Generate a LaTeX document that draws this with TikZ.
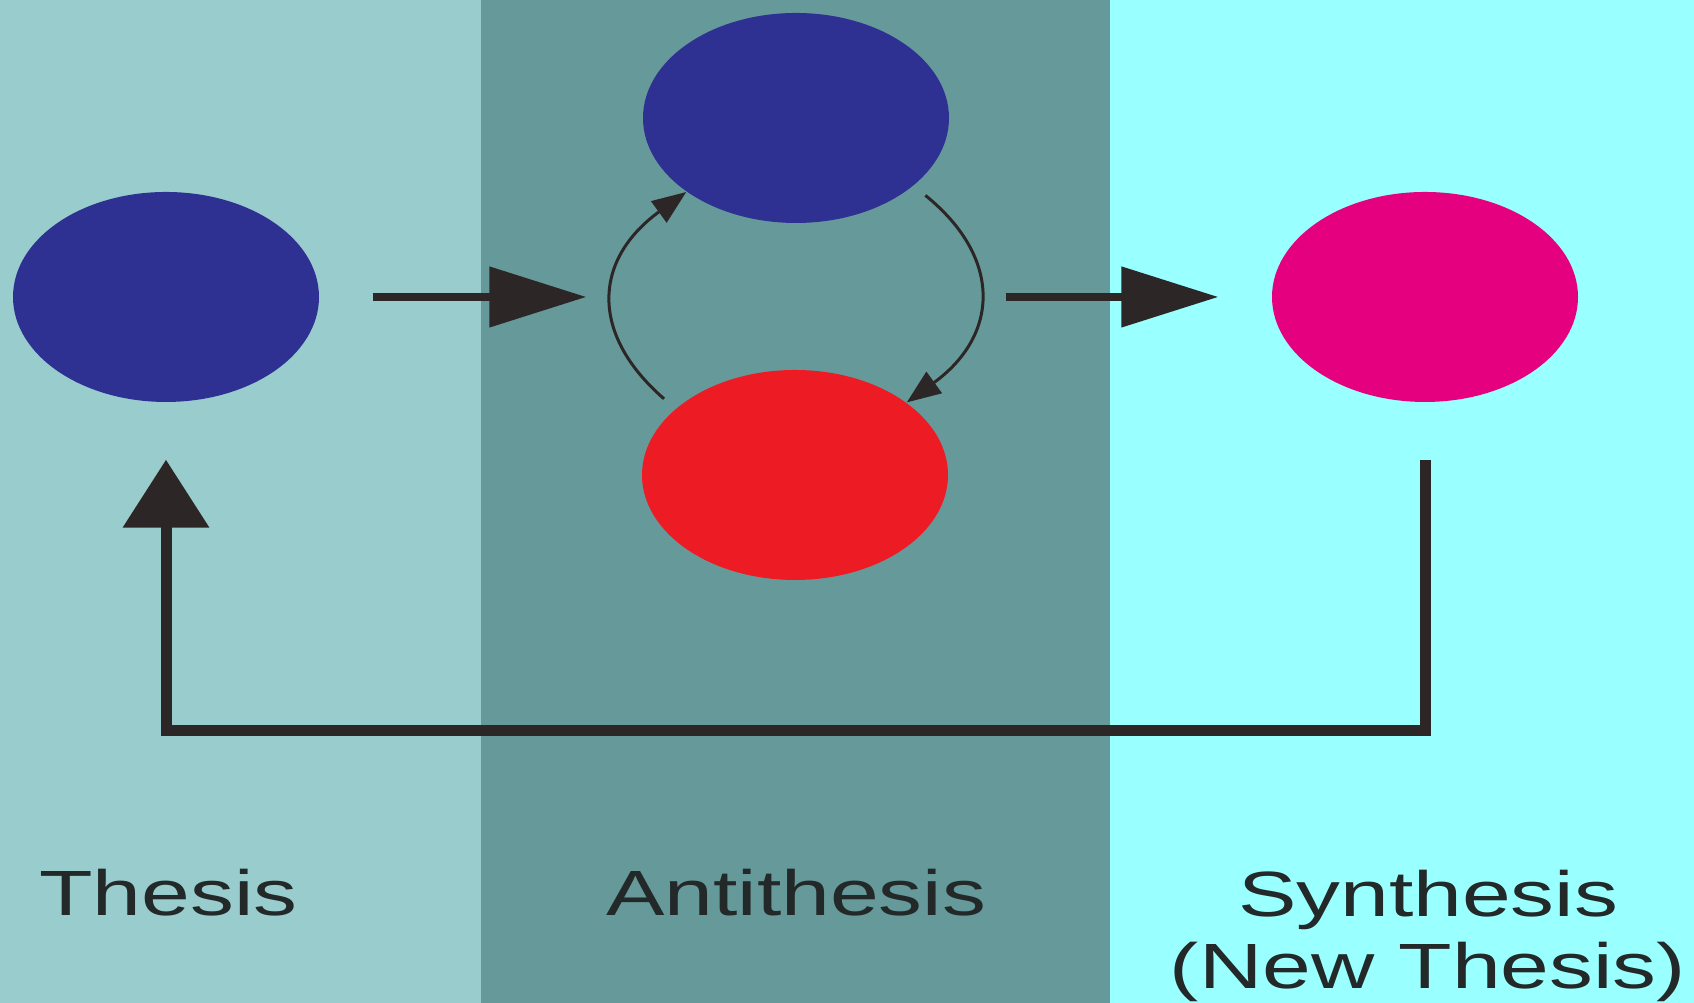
\documentclass[tikz,border=0pt]{standalone}
\usepackage{fontspec}
\setmainfont{Liberation Sans}
\usetikzlibrary{arrows.meta,positioning,shapes.geometric}

\definecolor{thesispanel}{HTML}{99CCCC}
\definecolor{antipanel}{HTML}{669999}
\definecolor{synthpanel}{HTML}{99FFFF}
\definecolor{dotblue}{HTML}{2E3192}
\definecolor{dotred}{HTML}{ED1C24}
\definecolor{dotmagenta}{HTML}{E4007F}
\definecolor{arrowgrey}{HTML}{2D2626}
\definecolor{labelgrey}{HTML}{232828}

\newcommand{\widetext}[1]{\scalebox{1.37}[1]{#1}}

\begin{document}
\begin{tikzpicture}[
  panel/.style={inner sep=0pt, outer sep=0pt, minimum height=10.03cm},
  dot/.style={ellipse, minimum width=3.06cm, minimum height=2.1cm, inner sep=0pt},
  stagelabel/.style={font=\fontsize{18.2}{20.7}\selectfont, text=labelgrey, anchor=base, align=center, inner sep=0pt},
  bigarrow/.style={-{Triangle[length=0.97cm,width=0.59cm]}, line width=0.08cm, arrowgrey},
  backarrow/.style={-{Triangle[length=0.68cm,width=0.84cm]}, line width=0.11cm, arrowgrey},
  cyclearrow/.style={-{Triangle[length=0.34cm,width=0.26cm]}, line width=0.03cm, arrowgrey, looseness=1.35}
]
\useasboundingbox (0,0) rectangle (16.94,10.03);

% Panels
\node[panel, fill=thesispanel, minimum width=4.81cm, anchor=south west] (thesispanel) at (0,0) {};
\node[panel, fill=antipanel, minimum width=6.29cm, right=0pt of thesispanel] (antipanel) {};
\node[panel, fill=synthpanel, minimum width=5.84cm, right=0pt of antipanel] (synthpanel) {};

% Thesis
\node[dot, fill=dotblue] (thesis) at (1.66,7.06) {};

% Antithesis
\node[dot, fill=dotblue] (antitop) at (7.96,8.85) {};
\node[dot, fill=dotred] (antibottom) at (7.95,5.28) {};

% Synthesis
\node[dot, fill=dotmagenta] (synth) at (14.25,7.06) {};

% Labels
\node[stagelabel] (thesislabel) at (1.685,0.87) {\widetext{Thesis}};
\node[stagelabel] (antilabel) at (7.96,0.87) {\widetext{Antithesis}};
\node[stagelabel] (synthlabel) at (14.28,0.14) {\widetext{Synthesis}\\\widetext{(New Thesis)}};

\draw[bigarrow] ([xshift=5.3mm]thesis.east) -- ([xshift=-5.6mm]thesis.east -| antitop.west);
\draw[bigarrow] ([xshift=5.6mm]synth.west -| antitop.east) -- ([xshift=-5.3mm]synth.west);

\draw[cyclearrow, shorten <=1.5mm] (antibottom.151) to[out=139,in=216] (antitop.214);
\draw[cyclearrow, shorten <=1.5mm] (antitop.-30) to[out=-39,in=36] (antibottom.33.6);

\draw[backarrow] ([yshift=-5.7mm]synth.south) -- ++(0,-2.71) -| ([yshift=-5.7mm]thesis.south);

\end{tikzpicture}
\end{document}
